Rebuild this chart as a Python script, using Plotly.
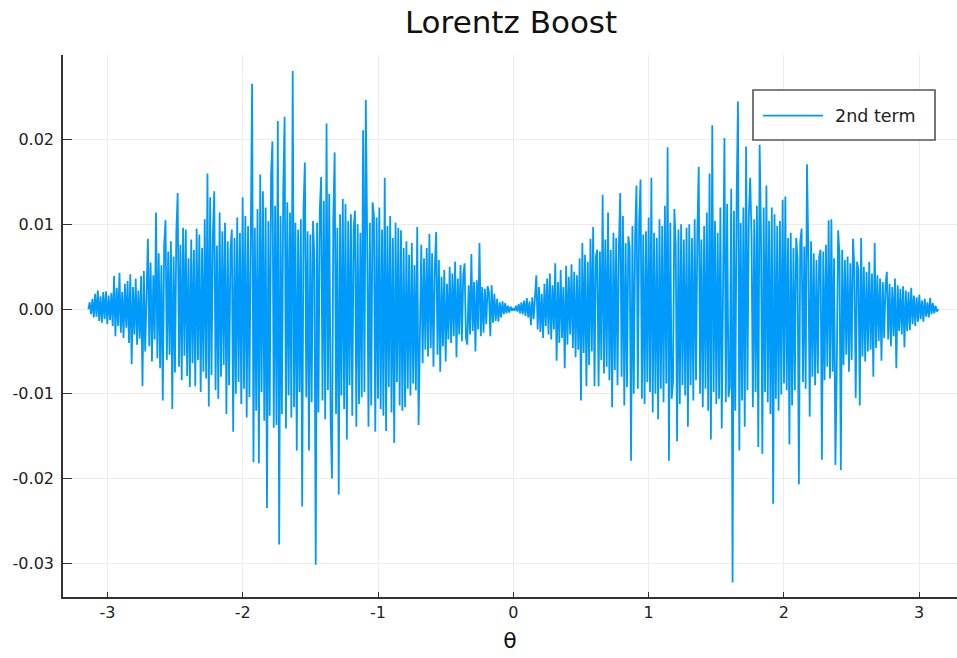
import numpy as np
import plotly.graph_objects as go

# Second term of the Lorentz boost expansion, sampled on a uniform theta grid
# from -pi to pi (values in units of 1e-3).
second_term_e3 = [
    # -3.14 .. -2.95
    0.0, 0.8, -0.6, 1.2, -1.0, 1.8, -0.9, 2.2, -1.4, 1.5, -1.6, 2.0, -1.2, 2.1, -1.8, 1.6, -1.3, 1.9, -2.0, 3.9,
    # -2.94 .. -2.75
    -3.2, 2.5, -2.0, 4.3, -2.8, 2.0, -3.4, 3.0, -2.2, 3.3, -4.0, 4.1, -6.5, 2.6, -3.0, 3.6, -4.2, 2.2, -3.5, 3.9,
    # -2.74 .. -2.55
    -9.1, 4.5, -5.0, 3.2, 8.3, -4.4, 5.5, -6.2, 4.0, -3.6, 11.4, -5.8, 6.6, -7.0, 5.2, -10.8, 7.4, 10.5, -6.0, 6.8,
    # -2.54 .. -2.35
    -5.4, 8.0, -11.8, 6.2, -7.5, 9.0, 13.7, -6.8, 7.6, -8.4, 9.6, -5.5, 9.4, -7.9, 6.0, -9.2, 8.2, -6.4, 7.0, -9.1,
    # -2.34 .. -2.15
    9.5, -6.0, 8.8, -9.8, 7.2, -7.4, 10.6, -8.2, 16.0, -11.5, 13.2, -7.8, 8.6, 13.9, -9.6, 7.5, -10.6, 11.4, -8.0, 9.2,
    # -2.14 .. -1.95
    -6.6, 10.2, -12.4, 8.0, -9.0, 7.0, 9.4, -14.5, 8.4, -10.0, 10.8, -8.6, 9.0, -11.2, 13.2, -9.4, 11.0, -12.8, 9.8, -10.4,
    # -1.94 .. -1.75
    9.0, 26.6, -18.1, 9.6, -12.0, 11.8, -18.2, 15.9, -9.8, 13.9, -13.2, 12.0, -23.5, 10.4, -12.6, 15.7, 19.8, -14.0, 12.2, -13.7,
    # -1.74 .. -1.55
    22.2, -27.8, 11.0, -12.4, 14.0, 22.7, -14.1, 12.6, -10.2, 11.4, -12.8, 28.1, -11.6, 10.2, -16.7, 9.4, -9.8, 10.6, -23.3, 12.0,
    # -1.54 .. -1.35
    17.3, -10.4, 9.2, -16.7, 8.8, -11.0, 10.4, 6.0, -30.2, 10.2, -12.2, 11.6, 15.6, -10.8, 12.8, -13.0, 21.9, -9.6, 13.6, -12.8,
    # -1.34 .. -1.15
    -20.0, 10.8, 18.5, -12.4, 9.6, -21.9, 11.2, -10.2, 13.0, -11.8, 12.4, -15.4, 10.4, -9.0, 11.2, -12.6, 9.4, 11.6, -13.9, 10.0,
    # -1.14 .. -0.95
    -11.2, 9.0, -10.4, 21.1, -9.8, 24.7, 8.6, -13.9, 10.2, -11.4, 12.6, 11.0, -14.5, 10.8, -10.6, 12.0, -11.8, 9.4, -12.6, 15.5,
    # -0.94 .. -0.75
    -14.4, 9.8, -9.2, 11.0, -12.2, 8.4, -15.8, 10.2, -8.6, 9.6, -11.4, 9.3, -12.0, 7.2, -11.6, 8.0, -9.4, 6.4, -10.2, 7.8,
    # -0.74 .. -0.55
    -8.8, 5.2, -9.6, 9.7, -13.7, -5.0, 7.6, -6.4, 6.0, -4.8, 7.2, -5.6, 8.9, -4.6, 6.6, -6.8, 5.0, 9.1, -5.4, 5.8,
    # -0.54 .. -0.35
    -7.4, 3.8, -4.4, 4.6, -6.2, 3.0, -3.6, 5.0, -4.0, 4.2, -3.2, 5.6, -5.7, 3.6, -3.0, 5.2, -3.8, 4.0, 5.4, -3.4,
    # -0.34 .. -0.15
    -4.2, 2.8, -3.0, 6.5, -2.6, 3.2, -5.0, 3.4, -2.4, 7.8, -3.2, 2.6, -2.8, 2.4, -1.8, 2.7, 2.0, -3.2, 2.8, -1.6,
    # -0.14 .. 0.05
    1.8, -1.4, 1.2, -1.5, 0.8, -1.0, 0.9, -0.6, 0.7, -0.5, 0.4, -0.4, 0.3, -0.2, 0.1, -0.2, 0.4, -0.3, 0.6, -0.5,
    # 0.06 .. 0.25
    0.8, -0.6, 1.0, -0.8, 1.3, -1.0, 0.9, -1.9, 1.4, -1.2, 2.2, 4.0, -2.4, 2.6, -2.7, 1.8, -3.4, 3.0, -2.0, 3.6,
    # 0.26 .. 0.45
    -3.0, 4.2, -3.6, 2.8, -2.4, 5.4, -6.1, 3.2, -4.0, 4.6, -3.4, 2.6, -7.0, 5.1, -4.2, 3.8, -3.0, 5.3, -4.6, 4.4,
    # 0.46 .. 0.65
    -5.7, 4.0, -4.8, 6.0, -10.8, 7.8, -5.2, 6.4, -9.1, 5.6, -6.6, 8.3, -5.0, 9.7, -9.1, 6.2, 7.0, -9.1, 6.8, -6.0,
    # 0.66 .. 0.85
    13.5, -7.6, 8.2, -6.8, 11.4, -8.4, 7.0, -11.6, 9.0, -7.2, 8.4, -9.0, 7.4, 13.7, -8.0, 11.0, -11.4, 7.8, -9.2, 8.6,
    # 0.86 .. 1.05
    7.2, -17.9, 9.8, -10.0, 8.6, 14.6, -9.4, 10.4, 15.3, -10.6, 8.8, -11.2, 9.2, -8.6, 10.8, -9.8, 15.5, -12.2, 9.0, -10.0,
    # 1.06 .. 1.25
    8.4, -13.0, 10.6, -9.4, 9.8, -11.0, 12.2, -8.8, 19.1, -17.9, 10.2, -10.6, -8.6, 11.8, 7.6, -15.6, 9.4, -11.2, 10.0, -9.0,
    # 1.26 .. 1.45
    8.2, -10.2, 9.6, -13.9, 10.0, -9.0, 8.4, -10.8, 10.6, -8.4, 9.2, 16.8, -10.0, 8.2, -11.6, 9.8, -9.4, 11.4, -12.0, 16.0,
    # 1.46 .. 1.65
    -15.4, 21.7, -9.8, 10.4, -11.2, 9.0, -10.6, 12.0, -14.1, 9.6, 20.2, -11.0, 12.4, -10.4, -9.2, 14.2, -32.3, 11.6, -12.0, 13.0,
    # 1.66 .. 1.85
    24.5, -16.7, 10.2, -10.8, 12.0, -13.9, 19.2, -9.6, 11.0, 15.5, 8.8, -11.6, 10.6, -9.8, 12.2, -16.3, 19.4, 9.0, -17.1, 12.0,
    # 1.86 .. 2.05
    -9.8, 14.6, -11.0, 10.4, -12.4, 12.0, -23.0, 11.2, -10.6, 9.8, -12.0, 10.4, -10.1, 12.9, -8.8, 13.3, -9.6, 8.4, -16.0, 9.0,
    # 2.06 .. 2.25
    -11.4, 7.2, -9.6, 8.4, 6.0, -20.7, 7.8, 9.5, -8.6, 7.4, -9.4, 17.1, 6.4, -12.7, 8.0, -8.0, 6.6, -9.0, 5.8, -7.6,
    # 2.26 .. 2.45
    6.2, 7.0, -17.8, 6.8, -8.4, 7.6, -6.8, 10.5, -8.2, 10.6, -7.4, 6.0, -18.4, -7.2, 9.3, 6.4, -19.0, 7.0, -6.6, 5.8,
    # 2.46 .. 2.65
    -5.4, 6.2, -7.4, 5.4, -6.0, 8.3, 4.8, -10.5, 5.6, 4.6, -11.4, 8.4, -5.6, 5.0, -6.2, 4.4, -5.0, 5.6, -4.8, 4.2,
    # 2.66 .. 2.85
    -8.0, 7.8, -4.6, 4.0, -3.8, 3.6, -6.1, 3.2, -3.4, 2.8, 4.4, -3.6, 3.0, -4.4, 2.6, -3.2, 3.6, -7.0, 2.8, -2.6,
    # 2.86 .. 3.14
    2.4, -3.0, 2.7, -4.5, 2.2, -2.6, 2.0, -2.5, 2.5, -1.8, 1.6, -2.0, 1.4, -1.5, 1.7, -1.2, 1.0, -1.5, 1.2, -0.9,
    0.8, -1.0, 1.3, -0.6, 0.7, -0.5, 0.4, -0.3, 0.0,
]

x_tick_vals = [-3, -2, -1, 0, 1, 2, 3]
x_tick_text = ["-3", "-2", "-1", "0", "1", "2", "3"]
y_tick_vals = [-0.03, -0.02, -0.01, 0.00, 0.01, 0.02]
y_tick_text = ["-0.03", "-0.02", "-0.01", "0.00", "0.01", "0.02"]

series_name = "2nd term"
line_color = "#009AFA"
axis_color = "#333333"
grid_color = "#ececec"
font_family = "DejaVu Sans"

second_term = np.array(second_term_e3) * 1e-3
theta = np.linspace(-np.pi, np.pi, len(second_term))

fig = go.Figure()
fig.add_trace(go.Scatter(
    x=theta, y=second_term, mode="lines", name=series_name,
    line=dict(color=line_color, width=1.8), showlegend=False,
))

axis_common = dict(
    showline=True, linecolor=axis_color, linewidth=1.6,
    ticks="inside", tickcolor=axis_color, tickwidth=1.4,
    showgrid=True, gridcolor=grid_color, gridwidth=1,
    zeroline=False, mirror=False,
    tickfont=dict(family=font_family, size=16, color="#222222"),
)

fig.update_layout(
    width=957, height=658,
    margin=dict(l=63, r=0, t=55, b=61),
    paper_bgcolor="white", plot_bgcolor="white",
    font=dict(family=font_family, color="#222222"),
    title=dict(text="Lorentz Boost", x=0.534, xanchor="center",
               y=1 - 22 / 658, yanchor="middle",
               font=dict(family=font_family, size=31, color="#111111")),
    xaxis=dict(range=[-3.329, 3.28], tickvals=x_tick_vals, ticktext=x_tick_text,
               ticklen=5, title=dict(text="θ", standoff=12,
                                     font=dict(family=font_family, size=22, color="#111111")),
               **axis_common),
    yaxis=dict(range=[-0.0340, 0.0300], tickvals=y_tick_vals, ticktext=y_tick_text,
               ticklen=9, ticklabelstandoff=4, **axis_common),
)

# Legend drawn as a framed box with a line sample and its label
lx0, lx1, ly0, ly1 = 0.7718, 0.9754, 0.8432, 0.9354
fig.add_shape(type="rect", xref="paper", yref="paper", x0=lx0, x1=lx1, y0=ly0, y1=ly1,
              line=dict(color="#555555", width=1.6), fillcolor="white", layer="above")
fig.add_shape(type="line", xref="paper", yref="paper", x0=0.7830, x1=0.8501, y0=0.888, y1=0.888,
              line=dict(color=line_color, width=1.8), layer="above")
fig.add_annotation(xref="paper", yref="paper", x=0.8613, y=0.888, xanchor="left", yanchor="middle",
                   text=series_name, showarrow=False,
                   font=dict(family=font_family, size=17.5, color="#222222"))

fig.write_html("out.html")
